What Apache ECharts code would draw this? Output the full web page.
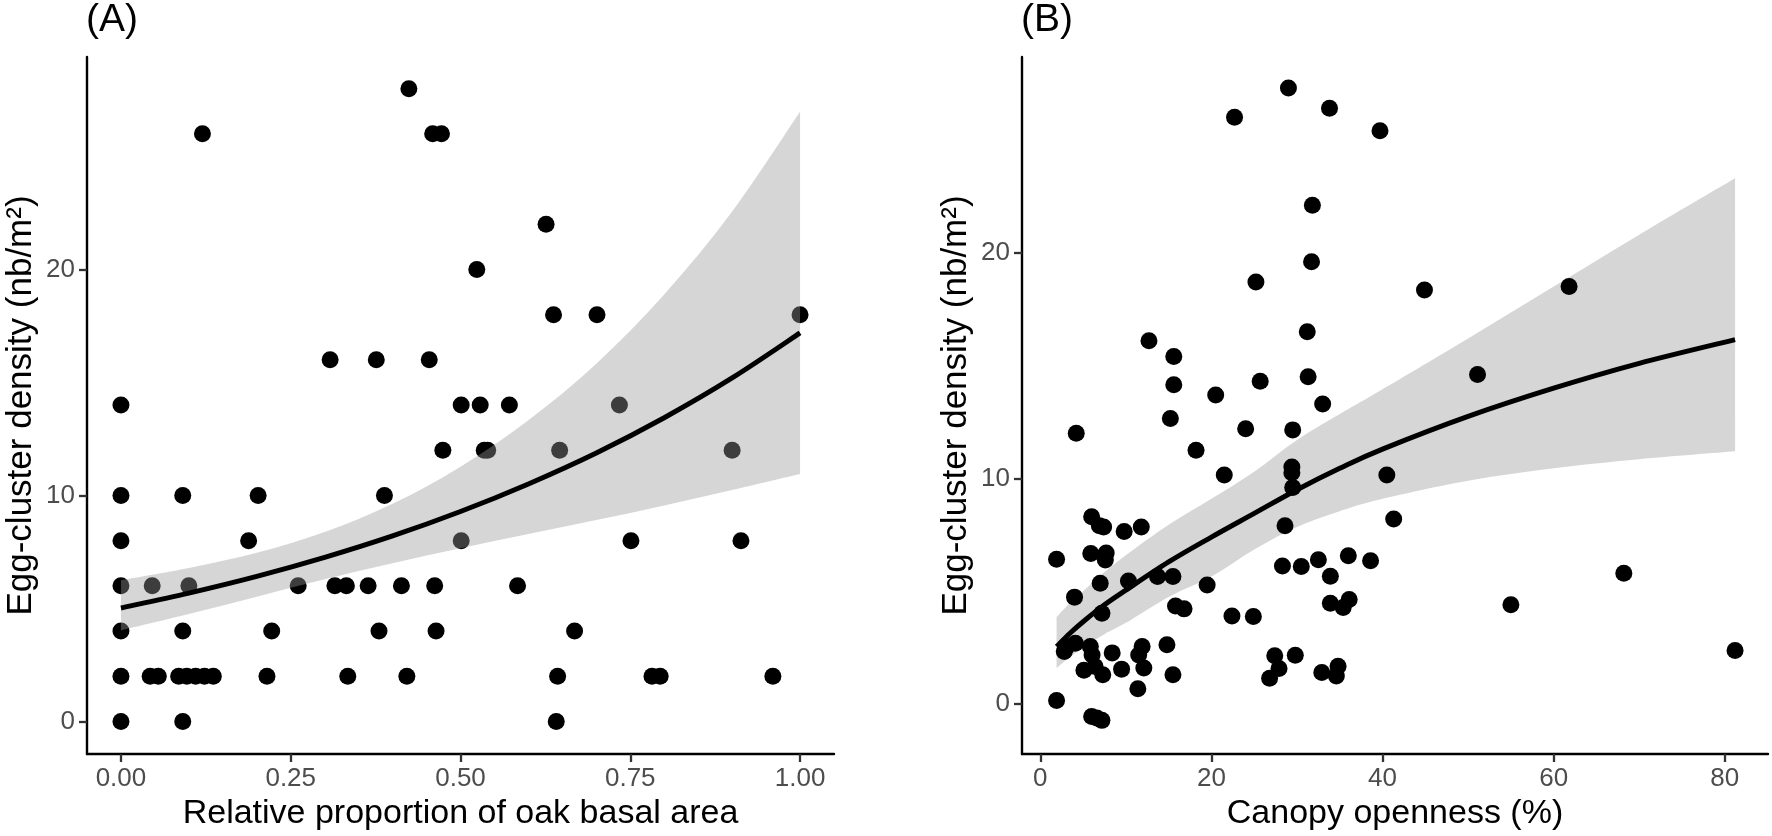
<!DOCTYPE html>
<html><head><meta charset="utf-8">
<script src="https://cdn.jsdelivr.net/npm/echarts@6/dist/echarts.min.js"></script>
<style>html,body{margin:0;padding:0;background:#fff}#c{width:1772px;height:836px}</style>
</head><body><div id="c"></div>
<script>
// ---------- Panel A data ----------
const pointsA = [
 [0,14],[0,10],[0,8],[0,6],[0,4],[0,2],[0,0],
 [0.043,2],[0.055,2],[0.046,6],
 [0.085,2],[0.097,2],[0.110,2],[0.123,2],[0.136,2],
 [0.091,10],[0.091,4],[0.091,0],[0.100,6],[0.120,26],
 [0.188,8],[0.202,10],[0.215,2],[0.222,4],[0.261,6],
 [0.308,16],[0.315,6],[0.332,6],[0.334,2],[0.364,6],
 [0.376,16],[0.380,4],[0.388,10],[0.413,6],[0.421,2],
 [0.424,28],[0.454,16],[0.459,26],[0.472,26],[0.462,6],
 [0.464,4],[0.474,12],[0.501,14],[0.501,8],[0.524,20],
 [0.529,14],[0.535,12],[0.540,12],[0.572,14],[0.584,6],
 [0.626,22],[0.637,18],[0.641,0],[0.643,2],[0.646,12],
 [0.668,4],[0.701,18],[0.734,14],[0.751,8],[0.782,2],
 [0.794,2],[0.900,12],[0.913,8],[0.960,2],[1.000,18]
];
const fitXA = [0,0.1,0.2,0.3,0.4,0.5,0.6,0.7,0.8,0.9,1.0];
const fitA  = [5.02,5.68,6.42,7.26,8.21,9.29,10.51,11.88,13.44,15.20,17.19];
const lowA  = [4.03,4.75,5.52,6.29,7.00,7.66,8.29,8.91,9.56,10.24,10.95];
const upA   = [6.25,6.79,7.46,8.38,9.63,11.27,13.33,15.83,18.89,22.56,26.98];
const xTicksA = [0,0.25,0.5,0.75,1];

// ---------- Panel B data ----------
const pointsB = [
 [22.7,26.0],[29.0,27.3],[33.8,26.4],[39.7,25.4],[31.8,22.1],[31.7,19.6],[25.2,18.7],
 [44.9,18.35],[61.8,18.5],[31.2,16.5],[12.7,16.1],[15.6,15.4],[15.6,14.15],[20.5,13.7],
 [25.7,14.3],[31.3,14.5],[33.0,13.3],[51.1,14.6],[4.2,12.0],[15.2,12.65],[24.0,12.2],
 [29.5,12.15],[18.2,11.25],[21.5,10.15],[29.4,10.5],[29.4,10.25],[29.5,9.6],[40.5,10.15],
 [28.6,7.9],[41.3,8.2],
 [6.0,8.3],[6.9,7.9],[7.4,7.85],[9.8,7.65],[11.8,7.85],[1.9,6.42],[5.9,6.67],[7.7,6.7],
 [7.6,6.38],[7.0,5.36],[10.3,5.45],[13.7,5.65],[15.5,5.65],[19.5,5.28],[4.0,4.74],
 [7.2,4.03],[15.8,4.35],[16.8,4.22],[22.4,3.9],[24.9,3.88],
 [28.3,6.12],[30.5,6.1],[32.5,6.4],[36.0,6.57],[38.6,6.35],[33.9,5.67],[33.9,4.47],
 [35.4,4.28],[36.1,4.63],[55.0,4.4],[68.2,5.8],[81.2,2.38],
 [3.1,2.55],[4.1,2.7],[2.8,2.33],[5.85,2.55],[6.05,2.18],[8.4,2.27],[5.1,1.5],[6.4,1.67],
 [7.3,1.3],[9.5,1.55],[11.9,2.55],[11.5,2.18],[12.1,1.6],[14.8,2.63],[15.5,1.3],[11.4,0.68],
 [1.9,0.16],[6.0,-0.55],[6.6,-0.62],[7.2,-0.72],
 [27.4,2.14],[29.8,2.16],[27.9,1.58],[26.8,1.15],[32.9,1.4],[34.8,1.68],[34.6,1.25]
];
const fitXB = [1.9,3.5,5,7.5,10,15,20,25,30,35,40,50,60,70,81.2];
const fitB  = [2.55,3.15,3.65,4.4,5.05,6.3,7.4,8.45,9.5,10.45,11.3,12.75,14.0,15.1,16.15];
const lowB  = [1.6,2.1,2.5,3.1,3.6,4.75,5.65,6.85,7.85,8.55,9.1,9.9,10.45,10.85,11.2];
const upB   = [3.85,4.5,5.0,5.85,6.6,7.95,9.1,10.3,11.7,12.85,13.95,16.2,18.5,20.8,23.3];
const xTicksB = [0,20,40,60,80];
const yTicks = [0,10,20];

const labelsText = {
  titleA: '(A)', titleB: '(B)',
  xNameA: 'Relative proportion of oak basal area',
  xNameB: 'Canopy openness (%)',
  yName: 'Egg-cluster density (nb/m²)'
};

const FONT = '"Liberation Sans", Arial, sans-serif';
const chart = echarts.init(document.getElementById('c'), null, {renderer: 'canvas'});

function xAxisCfg(idx, min, max, ticks, name, fmt) {
  return {
    gridIndex: idx, type: 'value', min: min, max: max,
    name: name, nameLocation: 'middle', nameGap: 39,
    nameTextStyle: {fontSize: 34, color: '#000', fontFamily: FONT},
    axisLine: {onZero: false, lineStyle: {color: '#000', width: 2.4}},
    axisTick: {show: true, length: 8, customValues: ticks, lineStyle: {color: '#333', width: 2.3}},
    axisLabel: {customValues: ticks, formatter: fmt, fontSize: 26, color: '#4d4d4d', margin: 12, fontFamily: FONT},
    splitLine: {show: false}
  };
}
function yAxisCfg(idx, min, max) {
  return {
    gridIndex: idx, type: 'value', min: min, max: max,
    name: labelsText.yName, nameLocation: 'middle', nameGap: 48, nameRotate: 90,
    nameTextStyle: {fontSize: 35, color: '#000', fontFamily: FONT},
    axisLine: {onZero: false, lineStyle: {color: '#000', width: 2.4}},
    axisTick: {show: true, length: 8, customValues: yTicks, lineStyle: {color: '#333', width: 2.3}},
    axisLabel: {customValues: yTicks, formatter: v => String(v), fontSize: 26, color: '#4d4d4d', margin: 12, fontFamily: FONT},
    splitLine: {show: false}
  };
}

// Catmull-Rom -> cubic bezier path segments through pixel points
function curveSegs(pts) {
  let d = '';
  for (let i = 0; i < pts.length - 1; i++) {
    const p0 = pts[Math.max(i - 1, 0)], p1 = pts[i], p2 = pts[i + 1], p3 = pts[Math.min(i + 2, pts.length - 1)];
    const c1 = [p1[0] + (p2[0] - p0[0]) / 6, p1[1] + (p2[1] - p0[1]) / 6];
    const c2 = [p2[0] - (p3[0] - p1[0]) / 6, p2[1] - (p3[1] - p1[1]) / 6];
    d += ' C' + c1[0] + ' ' + c1[1] + ' ' + c2[0] + ' ' + c2[1] + ' ' + p2[0] + ' ' + p2[1];
  }
  return d;
}

// pointsOnTop: in panel B the dots are drawn above the confidence band
function panelSeries(idx, pts, fx, fit, lo, hi, pointsOnTop) {
  return [
    {type: 'scatter', xAxisIndex: idx, yAxisIndex: idx, data: pts, symbolSize: 17,
     itemStyle: {color: '#000', opacity: 1}, z: pointsOnTop ? 4 : 2, silent: true},
    {type: 'custom', coordinateSystem: 'cartesian2d', xAxisIndex: idx, yAxisIndex: idx,
     data: [[fx[0], fit[0]]], z: 3, silent: true, clip: false,
     renderItem: function (params, api) {
       const up = fx.map((x, i) => api.coord([x, hi[i]]));
       const low = fx.map((x, i) => api.coord([x, lo[i]])).reverse();
       const mid = fx.map((x, i) => api.coord([x, fit[i]]));
       const band = 'M' + up[0][0] + ' ' + up[0][1] + curveSegs(up) +
                    ' L' + low[0][0] + ' ' + low[0][1] + curveSegs(low) + ' Z';
       const line = 'M' + mid[0][0] + ' ' + mid[0][1] + curveSegs(mid);
       return {type: 'group', children: [
         {type: 'path', shape: {pathData: band}, style: {fill: 'rgba(153,153,153,0.4)', stroke: null}},
         {type: 'path', shape: {pathData: line}, style: {fill: null, stroke: '#000', lineWidth: 5}}
       ]};
     }}
  ];
}

chart.setOption({
  animation: false,
  backgroundColor: '#fff',
  title: [
    {text: labelsText.titleA, left: 86, top: 1, padding: 0,
     textStyle: {fontSize: 39, fontWeight: 'normal', color: '#000', fontFamily: FONT}},
    {text: labelsText.titleB, left: 1021, top: 1, padding: 0,
     textStyle: {fontSize: 39, fontWeight: 'normal', color: '#000', fontFamily: FONT}}
  ],
  grid: [
    {left: 87, top: 57, width: 747, height: 697, containLabel: false, outerBoundsMode: 'none'},
    {left: 1022, top: 57, width: 746, height: 697, containLabel: false, outerBoundsMode: 'none'}
  ],
  xAxis: [
    xAxisCfg(0, -0.05, 1.05, xTicksA, labelsText.xNameA, v => v.toFixed(2)),
    xAxisCfg(1, -2.14, 85.05, xTicksB, labelsText.xNameB, v => String(v))
  ],
  yAxis: [
    yAxisCfg(0, -1.44, 29.4),
    yAxisCfg(1, -2.21, 28.67)
  ],
  series: [].concat(
    panelSeries(0, pointsA, fitXA, fitA, lowA, upA, false),
    panelSeries(1, pointsB, fitXB, fitB, lowB, upB, true)
  )
});
</script>
</body></html>
